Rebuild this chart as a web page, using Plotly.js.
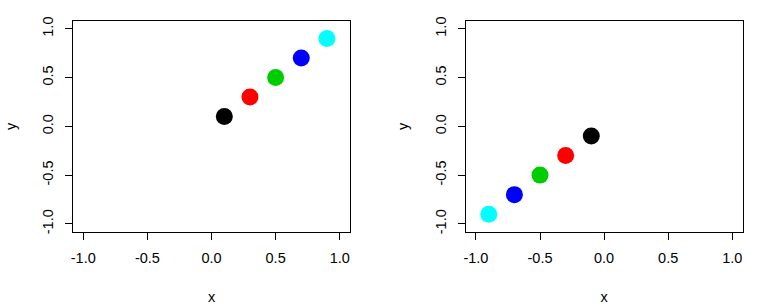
<!DOCTYPE html>
<html>
<head>
<meta charset="utf-8">
<script src="https://cdn.plot.ly/plotly-3.0.1.min.js"></script>
<style>html,body{margin:0;padding:0;background:#fff;}#chart{width:778px;height:306px;}</style>
</head>
<body>
<div id="chart"></div>
<script>
// Data
const colors = ["#000000", "#FF0000", "#00CD00", "#0000FF", "#00FFFF"];
const leftX = [0.1, 0.3, 0.5, 0.7, 0.9];
const leftY = [0.1, 0.3, 0.5, 0.7, 0.9];
const rightX = [-0.1, -0.3, -0.5, -0.7, -0.9];
const rightY = [-0.1, -0.3, -0.5, -0.7, -0.9];
const tickVals = [-1, -0.5, 0, 0.5, 1];
const tickText = ["-1.0", "-0.5", "0.0", "0.5", "1.0"];

const W = 778, H = 306;
const font = {family: "Liberation Sans, Arial, sans-serif", size: 14.5, color: "#000"};

function xax(l, r) {
  return {
    domain: [l / W, r / W], range: [-1.08, 1.08], tickvals: tickVals, ticktext: tickText,
    ticks: "outside", ticklen: 7, tickwidth: 1, tickcolor: "#000",
    showline: true, mirror: true, linecolor: "#000", linewidth: 1,
    showgrid: false, zeroline: false, tickfont: font, ticklabelstandoff: 6,
    title: {text: "x", font: font, standoff: 26}, fixedrange: true
  };
}
function yax(anchor) {
  return {
    domain: [1 - 231.7 / H, 1 - 21 / H], range: [-1.08, 1.08], tickvals: tickVals, ticktext: tickText,
    ticks: "outside", ticklen: 7, tickwidth: 1, tickcolor: "#000", tickangle: -90,
    showline: true, mirror: true, linecolor: "#000", linewidth: 1,
    showgrid: false, zeroline: false, tickfont: font, ticklabelstandoff: 6,
    title: {text: "y", font: font, standoff: 20}, anchor: anchor, fixedrange: true
  };
}

const traces = [
  {x: leftX, y: leftY, type: "scatter", mode: "markers", xaxis: "x", yaxis: "y",
   marker: {color: colors, size: 17, line: {width: 0}}, hoverinfo: "none"},
  {x: rightX, y: rightY, type: "scatter", mode: "markers", xaxis: "x2", yaxis: "y2",
   marker: {color: colors, size: 17, line: {width: 0}}, hoverinfo: "none"}
];

const layout = {
  width: W, height: H, margin: {l: 0, r: 0, t: 0, b: 0},
  paper_bgcolor: "#fff", plot_bgcolor: "#fff", showlegend: false,
  xaxis: Object.assign(xax(73, 350), {anchor: "y"}),
  yaxis: yax("x"),
  xaxis2: Object.assign(xax(465.7, 742.5), {anchor: "y2"}),
  yaxis2: yax("x2")
};

Plotly.newPlot("chart", traces, layout, {displayModeBar: false, staticPlot: true});
</script>
</body>
</html>
